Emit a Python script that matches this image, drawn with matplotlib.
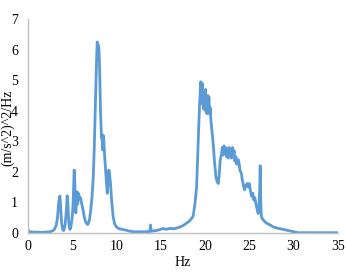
import matplotlib
matplotlib.use("Agg")
import matplotlib.pyplot as plt

# PSD, Hz vs (m/s^2)^2/Hz
freq = [0.0, 0.2, 0.5, 1.0, 1.5, 2.0, 2.5, 2.8, 3.0, 3.2, 3.35, 3.45, 3.55, 3.62, 3.7, 3.8, 3.95, 4.05,
        4.2, 4.35, 4.44, 4.52, 4.62, 4.74, 4.85, 5.0, 5.1, 5.18, 5.23, 5.3, 5.38, 5.42, 5.5, 5.57, 5.63,
        5.7, 5.8, 5.87, 5.95, 6.05, 6.2, 6.35, 6.5, 6.65, 6.78, 6.95, 7.1, 7.25, 7.38, 7.5, 7.64, 7.75,
        7.83, 7.9, 7.96, 8.02, 8.08, 8.13, 8.2, 8.27, 8.32, 8.38, 8.43, 8.5, 8.58, 8.65, 8.72, 8.77,
        8.85, 8.96, 9.05, 9.15, 9.22, 9.33, 9.45, 9.63, 9.8, 10.0, 10.3, 10.95, 11.5, 12.0, 12.6, 13.2,
        13.77, 13.85, 13.92, 14.5, 15.0, 15.3, 15.6, 16.0, 16.4, 16.8, 17.2, 17.5, 17.9, 18.2, 18.5,
        18.66, 18.86, 19.05, 19.23, 19.4, 19.53, 19.6, 19.68, 19.75, 19.8, 19.87, 19.93, 19.98, 20.05,
        20.12, 20.18, 20.25, 20.32, 20.38, 20.44, 20.52, 20.6, 20.66, 20.8, 20.92, 21.08, 21.23, 21.35,
        21.49, 21.6, 21.72, 21.87, 21.95, 22.05, 22.15, 22.24, 22.32, 22.42, 22.52, 22.62, 22.72, 22.82,
        22.92, 23.0, 23.1, 23.18, 23.28, 23.37, 23.48, 23.58, 23.75, 23.85, 23.94, 24.1, 24.2, 24.31,
        24.45, 24.6, 24.75, 24.88, 25.0, 25.12, 25.26, 25.4, 25.5, 25.63, 25.75, 25.9, 26.0, 26.1,
        26.18, 26.23, 26.28, 26.34, 26.38, 26.5, 26.76, 26.95, 27.3, 27.7, 28.26, 28.8, 29.4, 30.0,
        30.5, 31.0, 32.0, 33.0, 34.0, 35.0]
psd = [0.1, 0.05, 0.03, 0.03, 0.02, 0.03, 0.04, 0.07, 0.12, 0.25, 0.5, 0.9, 1.15, 1.21, 0.9, 0.35,
       0.1, 0.08, 0.25, 0.75, 1.22, 1.0, 0.35, 0.12, 0.18, 0.5, 0.9, 1.6, 2.06, 1.7, 0.9, 0.66, 1.1,
       1.35, 0.95, 1.3, 1.2, 1.1, 1.15, 1.0, 0.8, 0.55, 0.38, 0.3, 0.28, 0.42, 0.75, 1.2, 1.8, 2.8,
       4.45, 5.6, 6.25, 6.0, 6.15, 6.05, 5.6, 5.0, 4.0, 3.5, 3.1, 3.2, 2.72, 3.2, 3.05, 2.6, 2.3,
       2.06, 1.7, 1.3, 1.7, 2.06, 1.95, 1.62, 1.1, 0.53, 0.3, 0.2, 0.14, 0.1, 0.06, 0.04, 0.04, 0.04,
       0.05, 0.26, 0.06, 0.08, 0.12, 0.15, 0.12, 0.15, 0.14, 0.16, 0.2, 0.24, 0.32, 0.38, 0.48,
       0.55, 0.95, 1.5, 3.0, 4.3, 4.95, 4.6, 4.9, 4.2, 4.5, 4.05, 4.6, 4.3, 4.7, 3.95, 4.3, 3.9, 4.5,
       4.2, 4.45, 3.9, 4.1, 3.7, 3.3, 2.93, 2.3, 1.84, 1.7, 1.62, 1.9, 2.4, 2.6, 2.8, 2.55, 2.85,
       2.6, 2.8, 2.5, 2.75, 2.45, 2.8, 2.5, 2.72, 2.45, 2.8, 2.5, 2.7, 2.35, 2.5, 2.25, 2.4, 2.28,
       2.05, 1.95, 1.75, 1.6, 1.41, 1.55, 1.62, 1.5, 1.62, 1.4, 1.2, 1.3, 1.08, 1.15, 0.95, 0.75,
       0.64, 0.9, 1.5, 2.2, 1.2, 0.6, 0.53, 0.45, 0.37, 0.32, 0.27, 0.2, 0.15, 0.12, 0.08, 0.04, 0.01,
       0.01, 0.01, 0.01, 0.01, 0.01]

xticks = [0, 5, 10, 15, 20, 25, 30, 35]
yticks = [0, 1, 2, 3, 4, 5, 6, 7]

plt.rcParams['font.family'] = ['Liberation Serif', 'DejaVu Serif']

fig = plt.figure(figsize=(3.48, 2.73), dpi=100)
ax = fig.add_axes([0.080, 0.1465, 0.891, 0.7835])

ax.plot(freq, psd, color='#5B9BD5', linewidth=2.0, solid_joinstyle='round')

ax.set_xlim(0, 35)
ax.set_ylim(0, 7)
ax.set_xticks(xticks)
ax.set_yticks(yticks)
ax.tick_params(axis='both', length=0, labelsize=10)
ax.tick_params(axis='y', pad=7)
ax.tick_params(axis='x', pad=5)

for side in ['top', 'right']:
    ax.spines[side].set_visible(False)
for side in ['left', 'bottom']:
    ax.spines[side].set_color('#BFBFBF')
    ax.spines[side].set_linewidth(1.0)

ax.set_xlabel('Hz', fontsize=10, labelpad=2)
ax.set_ylabel('(m/s^2)^2/Hz', fontsize=10)
ax.yaxis.set_label_coords(-0.045, 0.49)

fig.savefig('out.png', dpi=100)
